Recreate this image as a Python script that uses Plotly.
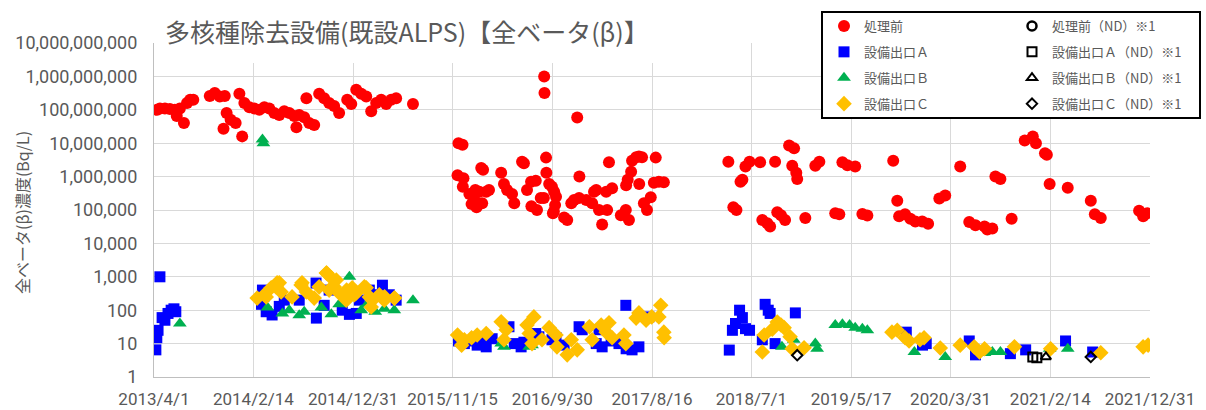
import plotly.graph_objects as go

# ---------------- data ----------------
red_dates = [
    "2013-04-11", "2013-04-20", "2013-05-06", "2013-05-22", "2013-06-07", "2013-06-23", "2013-06-13",
    "2013-07-06", "2013-07-16", "2013-07-26", "2013-08-05", "2013-09-27", "2013-10-13", "2013-10-29",
    "2013-11-14", "2013-11-20", "2013-12-03", "2013-12-19", "2013-11-10", "2013-12-31", "2014-01-09",
    "2014-01-16", "2014-02-01", "2014-02-17", "2014-03-05", "2014-03-21", "2014-04-06", "2014-04-22",
    "2014-05-08", "2014-05-24", "2014-06-09", "2014-06-25", "2014-07-11", "2014-07-27", "2014-07-02",
    "2014-08-12", "2014-08-28", "2014-08-03", "2014-09-13", "2014-09-29", "2014-10-15", "2014-10-31",
    "2014-11-16", "2014-12-12", "2014-12-25", "2015-01-10", "2015-01-26", "2015-02-11", "2015-02-27",
    "2015-03-15", "2015-03-31", "2015-04-16", "2015-05-02", "2015-05-18", "2015-07-11",
    "2015-12-04", "2015-12-17", "2015-12-01", "2015-12-20", "2015-12-18", "2016-01-08", "2016-01-15",
    "2016-01-24", "2016-01-31", "2016-01-27", "2016-02-09", "2016-02-15", "2016-02-21", "2016-02-18",
    "2016-03-02", "2016-03-11", "2016-04-19", "2016-04-28", "2016-05-08", "2016-05-24", "2016-05-31",
    "2016-06-25", "2016-07-01", "2016-07-11", "2016-07-24", "2016-08-08", "2016-07-25", "2016-08-12",
    "2016-08-24", "2016-09-03", "2016-09-04", "2016-09-05", "2016-09-10", "2016-09-11", "2016-09-20",
    "2016-09-29", "2016-10-06", "2016-10-12", "2016-10-09", "2016-10-05", "2016-10-02", "2016-11-07",
    "2016-11-17", "2016-11-30", "2016-12-09", "2016-12-25", "2016-12-19", "2016-12-26", "2017-01-17",
    "2017-02-05", "2017-02-11", "2017-02-18", "2017-02-27", "2017-03-09", "2017-03-22", "2017-03-25",
    "2017-04-10", "2017-03-31", "2017-05-08", "2017-05-24", "2017-06-03", "2017-05-25", "2017-05-30",
    "2017-06-10", "2017-06-13", "2017-06-26", "2017-07-05", "2017-07-15", "2017-07-06", "2017-07-21",
    "2017-07-31", "2017-08-12", "2017-08-28", "2017-08-22", "2017-09-07", "2017-09-23",
    "2018-04-18", "2018-05-04", "2018-05-14", "2018-05-27", "2018-06-02", "2018-06-12", "2018-06-25",
    "2018-07-29", "2018-08-05", "2018-08-21", "2018-08-30", "2018-09-15", "2018-09-22", "2018-10-04",
    "2018-10-17", "2018-10-30", "2018-11-15", "2018-11-09", "2018-11-25", "2018-11-22", "2018-12-21",
    "2019-01-22", "2019-02-04", "2019-03-27", "2019-04-09", "2019-04-19", "2019-05-05", "2019-05-30",
    "2019-06-22", "2019-07-08", "2019-09-29", "2019-10-12", "2019-10-18", "2019-11-06", "2019-11-23",
    "2019-12-09", "2019-12-31", "2020-01-19", "2020-02-24", "2020-03-14", "2020-05-01", "2020-05-30",
    "2020-06-19", "2020-07-18", "2020-07-27", "2020-08-12", "2020-08-22", "2020-09-07", "2020-10-13",
    "2020-11-24", "2020-12-20", "2020-12-30", "2021-01-28", "2021-02-03", "2021-02-12", "2021-04-11",
    "2021-06-24", "2021-07-07", "2021-07-26", "2021-11-26", "2021-12-09", "2021-12-22",
]
red_vals = [
    1.0e8, 1.1e8, 1.1e8, 1.05e8, 1.0e8, 1.1e8, 6.5e7,
    4.0e7, 1.6e8, 2.0e8, 2.0e8, 2.6e8, 3.2e8, 2.5e8,
    2.6e8, 8.0e7, 5.0e7, 4.0e7, 2.7e7, 3.0e8, 1.6e7,
    1.6e8, 1.2e8, 1.1e8, 1.0e8, 1.2e8, 1.1e8, 8.0e7,
    7.0e7, 9.0e7, 8.0e7, 6.5e7, 7.0e7, 6.0e7, 3.0e7,
    4.0e7, 3.5e7, 2.2e8, 3.0e8, 2.2e8, 1.6e8, 1.3e8,
    8.0e7, 2.0e8, 1.5e8, 4.0e8, 3.0e8, 2.5e8, 9.0e7,
    1.6e8, 2.0e8, 1.5e8, 2.0e8, 2.2e8, 1.5e8,
    1.0e7, 9.0e6, 1.1e6, 9.0e5, 5.0e5, 3.0e5, 1.5e5,
    2.0e5, 1.2e5, 4.0e5, 3.5e5, 1.8e6, 1.6e6, 1.6e5,
    3.5e5, 4.0e5, 1.3e6, 6.0e5, 4.0e5, 3.0e5, 1.6e5,
    2.8e6, 2.5e6, 4.0e5, 7.0e5, 7.5e5, 1.3e5, 1.0e5,
    2.3e5, 2.3e5, 1.0e9, 3.2e8, 3.7e6, 1.3e6, 6.0e5,
    5.0e5, 3.5e5, 2.5e5, 1.4e5, 9.0e4, 8.0e4, 6.0e4,
    5.0e4, 1.6e5, 2.0e5, 2.3e5, 5.9e7, 1.0e6, 2.0e5,
    1.6e5, 3.5e5, 4.0e5, 1.0e5, 3.7e4, 3.5e5, 1.0e5,
    4.5e5, 2.7e6, 7.0e4, 1.0e5, 5.0e4, 5.5e5, 8.0e5,
    1.4e6, 3.0e6, 3.8e6, 4.0e6, 3.8e6, 6.0e5, 1.6e5,
    1.0e5, 2.4e5, 3.7e6, 6.5e5, 7.0e5, 6.8e5,
    2.8e6, 1.2e5, 1.0e5, 7.0e5, 8.0e5, 2.0e6, 2.8e6,
    2.7e6, 5.0e4, 4.0e4, 3.2e4, 2.8e6, 8.5e4, 7.0e4,
    5.0e4, 8.6e6, 7.0e6, 2.1e6, 8.5e5, 1.3e6, 5.8e4,
    2.1e6, 2.8e6, 8.0e4, 7.5e4, 2.7e6, 2.2e6, 2.0e6,
    7.6e4, 6.8e4, 3.0e6, 1.9e5, 6.5e4, 7.5e4, 5.5e4,
    4.5e4, 4.5e4, 3.9e4, 2.2e5, 2.7e5, 2.0e6, 4.4e4,
    3.5e4, 3.2e4, 2.6e4, 2.8e4, 1.0e6, 8.5e5, 5.5e4,
    1.2e7, 1.6e7, 1.0e7, 5.0e6, 4.5e6, 6.0e5, 4.6e5,
    1.9e5, 7.5e4, 5.8e4, 9.5e4, 6.5e4, 8.0e4,
]

blue_dates = [
    "2013-04-07", "2013-04-10", "2013-04-14", "2013-04-20", "2013-04-27", "2013-05-06", "2013-05-16",
    "2013-05-26", "2013-06-04", "2013-06-10",
    "2014-03-15", "2014-03-21", "2014-03-12", "2014-03-27", "2014-04-15", "2014-05-08", "2014-05-24",
    "2014-07-11", "2014-09-03", "2014-09-04", "2014-09-29", "2014-10-15", "2014-11-26", "2014-12-19",
    "2015-01-10", "2015-01-20", "2015-02-21", "2015-03-09", "2015-04-04", "2015-04-26", "2015-05-18",
    "2015-12-04", "2015-12-23", "2016-01-15", "2016-02-02", "2016-02-18", "2016-03-02", "2016-03-21",
    "2016-05-14", "2016-05-31", "2016-06-22", "2016-07-01", "2016-08-08", "2016-08-18", "2016-09-29",
    "2016-10-12", "2016-11-07", "2016-12-25", "2017-01-04", "2017-02-18", "2017-02-27", "2017-03-09",
    "2017-04-07", "2017-05-02", "2017-05-24", "2017-05-25", "2017-06-13", "2017-07-05", "2017-08-06",
    "2018-04-21", "2018-05-01", "2018-05-11", "2018-05-24", "2018-06-02", "2018-06-12", "2018-06-25",
    "2018-08-05", "2018-08-14", "2018-08-24", "2018-08-30", "2018-09-15", "2018-11-19", "2019-11-10",
    "2020-01-01", "2020-01-13", "2020-05-30", "2020-06-19", "2020-10-09", "2020-11-27", "2021-04-04",
    "2021-06-30",
]
blue_vals = [
    6.5, 15, 25, 1000, 60, 50, 80,
    100, 110, 90,
    400, 270, 150, 90, 72, 130, 200,
    200, 650, 58, 140, 400, 100, 75,
    80, 200, 400, 290, 560, 290, 200,
    12, 10, 12, 9, 16, 8, 14,
    32, 10, 8, 11, 20, 16, 13,
    15, 9, 32, 26, 10, 26, 8,
    12, 10, 140, 7, 6.5, 8, 63,
    6.4, 25, 40, 100, 60, 28, 25,
    13, 150, 100, 80, 10, 83, 22,
    9, 10, 12, 4.6, 5, 6.5, 12,
    5.6,
]

green_dates = [
    "2013-06-23", "2014-03-15", "2014-03-18",
    "2014-03-31", "2014-05-18", "2014-06-09", "2014-07-11", "2014-07-27", "2014-09-20", "2014-10-22",
    "2014-11-16", "2014-12-19", "2014-12-28", "2015-01-26", "2015-02-14", "2015-03-12", "2015-04-10",
    "2015-05-12", "2015-07-11",
    "2016-04-19", "2016-04-28", "2016-07-18", "2016-07-27",
    "2018-10-07", "2018-11-14", "2019-01-22", "2019-01-28", "2019-03-27", "2019-04-19", "2019-05-12",
    "2019-05-30", "2019-06-22", "2019-07-08", "2019-12-06", "2020-03-14", "2020-07-18", "2020-08-12",
    "2020-09-07", "2021-02-12", "2021-04-11",
]
green_vals = [
    40, 1.3e7, 1.0e7,
    120, 80, 100, 70, 90, 120, 75,
    150, 1000, 300, 100, 150, 90, 110,
    100, 200,
    10, 8, 8, 9,
    8, 13, 10, 7, 36, 38, 36,
    30, 28, 25, 5.6, 4, 5.2, 5.6,
    5.6, 7, 7,
]

gold_dates = [
    "2014-02-26", "2014-03-21", "2014-03-27", "2014-04-12", "2014-04-28", "2014-05-01", "2014-05-08",
    "2014-05-14", "2014-06-18", "2014-07-17", "2014-07-20", "2014-08-03", "2014-08-28", "2014-09-13",
    "2014-10-06", "2014-10-07", "2014-10-15", "2014-10-22", "2014-10-31", "2014-11-07", "2014-11-16",
    "2014-12-09", "2014-12-10", "2014-12-28", "2015-01-04", "2015-01-10", "2015-02-05", "2015-02-11",
    "2015-02-21", "2015-02-27", "2015-03-03", "2015-03-25", "2015-04-10", "2015-04-11", "2015-05-12",
    "2015-05-13",
    "2015-12-01", "2015-12-14", "2015-12-23", "2016-01-15", "2016-02-02", "2016-03-02", "2016-04-19",
    "2016-04-28", "2016-05-05", "2016-07-11", "2016-07-18", "2016-07-27", "2016-08-02", "2016-08-28",
    "2016-09-20", "2016-10-12", "2016-10-15", "2016-11-17", "2016-11-30", "2016-12-19", "2017-01-27",
    "2017-02-05", "2017-03-06", "2017-03-22", "2017-03-31", "2017-04-10", "2017-05-18", "2017-05-24",
    "2017-06-26", "2017-07-05", "2017-07-28", "2017-08-15", "2017-09-07", "2017-09-13", "2017-09-23",
    "2017-09-24",
    "2018-08-05", "2018-08-11", "2018-09-06", "2018-09-22", "2018-10-04", "2018-10-14", "2018-11-02",
    "2018-11-09", "2018-12-17", "2019-09-25", "2019-10-12", "2019-11-06", "2019-11-19", "2019-12-24",
    "2020-01-06", "2020-02-27", "2020-05-01", "2020-06-15", "2020-07-02", "2020-07-18", "2020-10-22",
    "2021-02-15", "2021-07-26", "2021-12-09", "2021-12-25",
]
gold_vals = [
    230, 290, 250, 470, 500, 660, 660,
    350, 250, 570, 660, 350, 230, 500,
    1300, 1300, 400, 930, 500, 800, 330,
    200, 400, 470, 290, 330, 500, 470,
    250, 125, 200, 290, 200, 250, 230,
    230,
    18, 9, 13, 15, 18, 20, 45,
    13, 26, 36, 20, 10, 63, 13,
    30, 18, 8, 4.6, 13, 6.5, 32,
    13, 36, 22, 42, 15, 18, 10,
    58, 83, 50, 63, 63, 140, 22,
    15,
    5.6, 18, 27, 44, 36, 30, 16,
    7, 7.5, 22, 25, 15, 12, 13,
    15, 7.4, 9, 8, 5.6, 7, 8,
    7, 5.3, 8, 9,
]

nd_red_dates = []
nd_red_vals = []
nd_blue_dates = ["2020-12-20", "2021-01-02"]
nd_blue_vals = [4.0, 3.8]
nd_green_dates = ["2021-01-31"]
nd_green_vals = [4.0]
nd_gold_dates = ["2018-11-25", "2021-06-24"]
nd_gold_vals = [4.5, 4.0]

x_tick_dates = ["2013-04-01", "2014-02-14", "2014-12-31", "2015-11-15", "2016-09-30", "2017-08-16",
                "2018-07-01", "2019-05-17", "2020-03-31", "2021-02-14", "2021-12-31"]
x_tick_text = ["2013/4/1", "2014/2/14", "2014/12/31", "2015/11/15", "2016/9/30", "2017/8/16",
               "2018/7/1", "2019/5/17", "2020/3/31", "2021/2/14", "2021/12/31"]
y_tick_vals = [1, 10, 100, 1e3, 1e4, 1e5, 1e6, 1e7, 1e8, 1e9, 1e10]
y_tick_text = ["1", "10", "100", "1,000", "10,000", "100,000", "1,000,000", "10,000,000",
               "100,000,000", "1,000,000,000", "10,000,000,000"]

title_text = "多核種除去設備(既設ALPS)【全ベータ(β)】"
y_title = "全ベータ(β)濃度(Bq/L)"

# ---------------- figure ----------------
FONT = "Noto Sans CJK JP"
NUMFONT = "Roboto"
GRAY = "#595959"
GRID = "#D9D9D9"
W, H = 1206, 410
ML, MR, MT, MB = 154, 56, 43, 33
PW, PH = W - ML - MR, H - MT - MB


def px_x(p):
    return (p - ML) / PW


def px_y(p):
    return (H - MB - p) / PH


fig = go.Figure()


def add(name, xs, ys, symbol, color, size, legend, group, lw=0, lc=None):
    xs = xs if xs else [None]
    ys = ys if ys else [None]
    fig.add_trace(go.Scatter(
        x=xs, y=ys, mode="markers", name=name, legend=legend, legendgroup=group,
        marker=dict(symbol=symbol, color=color, size=size,
                    line=dict(width=lw, color=lc if lc else color)),
        hoverinfo="x+y+name",
    ))


add("処理前", red_dates, red_vals, "circle", "#FF0000", 12, "legend", "g1")
add("設備出口Ａ", blue_dates, blue_vals, "square", "#0000FF", 11, "legend", "g2")
add("設備出口Ｂ", green_dates, green_vals, "triangle-up", "#00B050", 12, "legend", "g3")
add("設備出口Ｃ", gold_dates, gold_vals, "diamond", "#FFC000", 12, "legend", "g4")
add("処理前（ND）※1", nd_red_dates, nd_red_vals, "circle-open", "#000000", 9, "legend2", "h1", 2.5, "#000000")
add("設備出口Ａ（ND）※1", nd_blue_dates, nd_blue_vals, "square-open", "#000000", 9, "legend2", "h2", 2, "#000000")
add("設備出口Ｂ（ND）※1", nd_green_dates, nd_green_vals, "triangle-up-open", "#000000", 9, "legend2", "h3", 2, "#000000")
add("設備出口Ｃ（ND）※1", nd_gold_dates, nd_gold_vals, "diamond-open", "#000000", 8, "legend2", "h4", 2, "#000000")

legend_common = dict(
    xref="container", yref="container", xanchor="left", yanchor="top",
    bgcolor="rgba(0,0,0,0)", borderwidth=0, tracegroupgap=6,
    font=dict(family=FONT, size=13, color=GRAY),
)

fig.update_layout(
    width=W, height=H,
    margin=dict(l=ML, r=MR, t=MT, b=MB, autoexpand=False),
    paper_bgcolor="white", plot_bgcolor="white",
    font=dict(family=FONT, color=GRAY),
    showlegend=True,
    title=dict(text=title_text, xref="container", yref="container",
               x=165 / W, xanchor="left", y=1 - 33 / H, yanchor="middle",
               font=dict(family=FONT, size=25, color=GRAY)),
    legend=dict(x=824 / W, y=1 - 11 / H, **legend_common),
    legend2=dict(x=1012 / W, y=1 - 11 / H, **legend_common),
    xaxis=dict(
        type="date", range=["2013-04-01", "2021-12-31"],
        tickvals=x_tick_dates, ticktext=x_tick_text,
        showgrid=True, gridcolor=GRID, gridwidth=1.3,
        showline=True, linecolor="#BFBFBF", linewidth=1.3,
        ticks="outside", ticklen=6, tickcolor="rgba(0,0,0,0)",
        tickfont=dict(family=NUMFONT, size=17, color=GRAY),
        zeroline=False, fixedrange=True,
    ),
    yaxis=dict(
        type="log", range=[0, 10],
        tickvals=y_tick_vals, ticktext=y_tick_text,
        showgrid=True, gridcolor=GRID, gridwidth=1.3,
        showline=True, linecolor="#BFBFBF", linewidth=1.3,
        ticks="outside", ticklen=12, tickcolor="rgba(0,0,0,0)",
        tickfont=dict(family=NUMFONT, size=18, color=GRAY),
        zeroline=False, fixedrange=True,
    ),
    annotations=[dict(
        text=y_title, textangle=-90, xref="paper", yref="paper",
        x=px_x(22), y=px_y(213), xanchor="center", yanchor="middle", showarrow=False,
        font=dict(family=FONT, size=16, color=GRAY),
    )],
    shapes=[
        # white backdrop of the chart title (covers gridlines like the original title box)
        dict(type="rect", xref="paper", yref="paper", layer="above",
             x0=px_x(156), x1=px_x(665), y0=px_y(63), y1=px_y(38),
             fillcolor="white", line=dict(width=0)),
        # legend frame
        dict(type="rect", xref="paper", yref="paper", layer="above",
             x0=px_x(822), x1=px_x(1200), y0=px_y(118), y1=px_y(12),
             fillcolor="white", line=dict(color="#000000", width=2)),
    ],
)

fig.write_html(
    "out.html",
    config={"displayModeBar": False},
    post_script="document.body.style.margin='0';document.body.style.padding='0';",
)
